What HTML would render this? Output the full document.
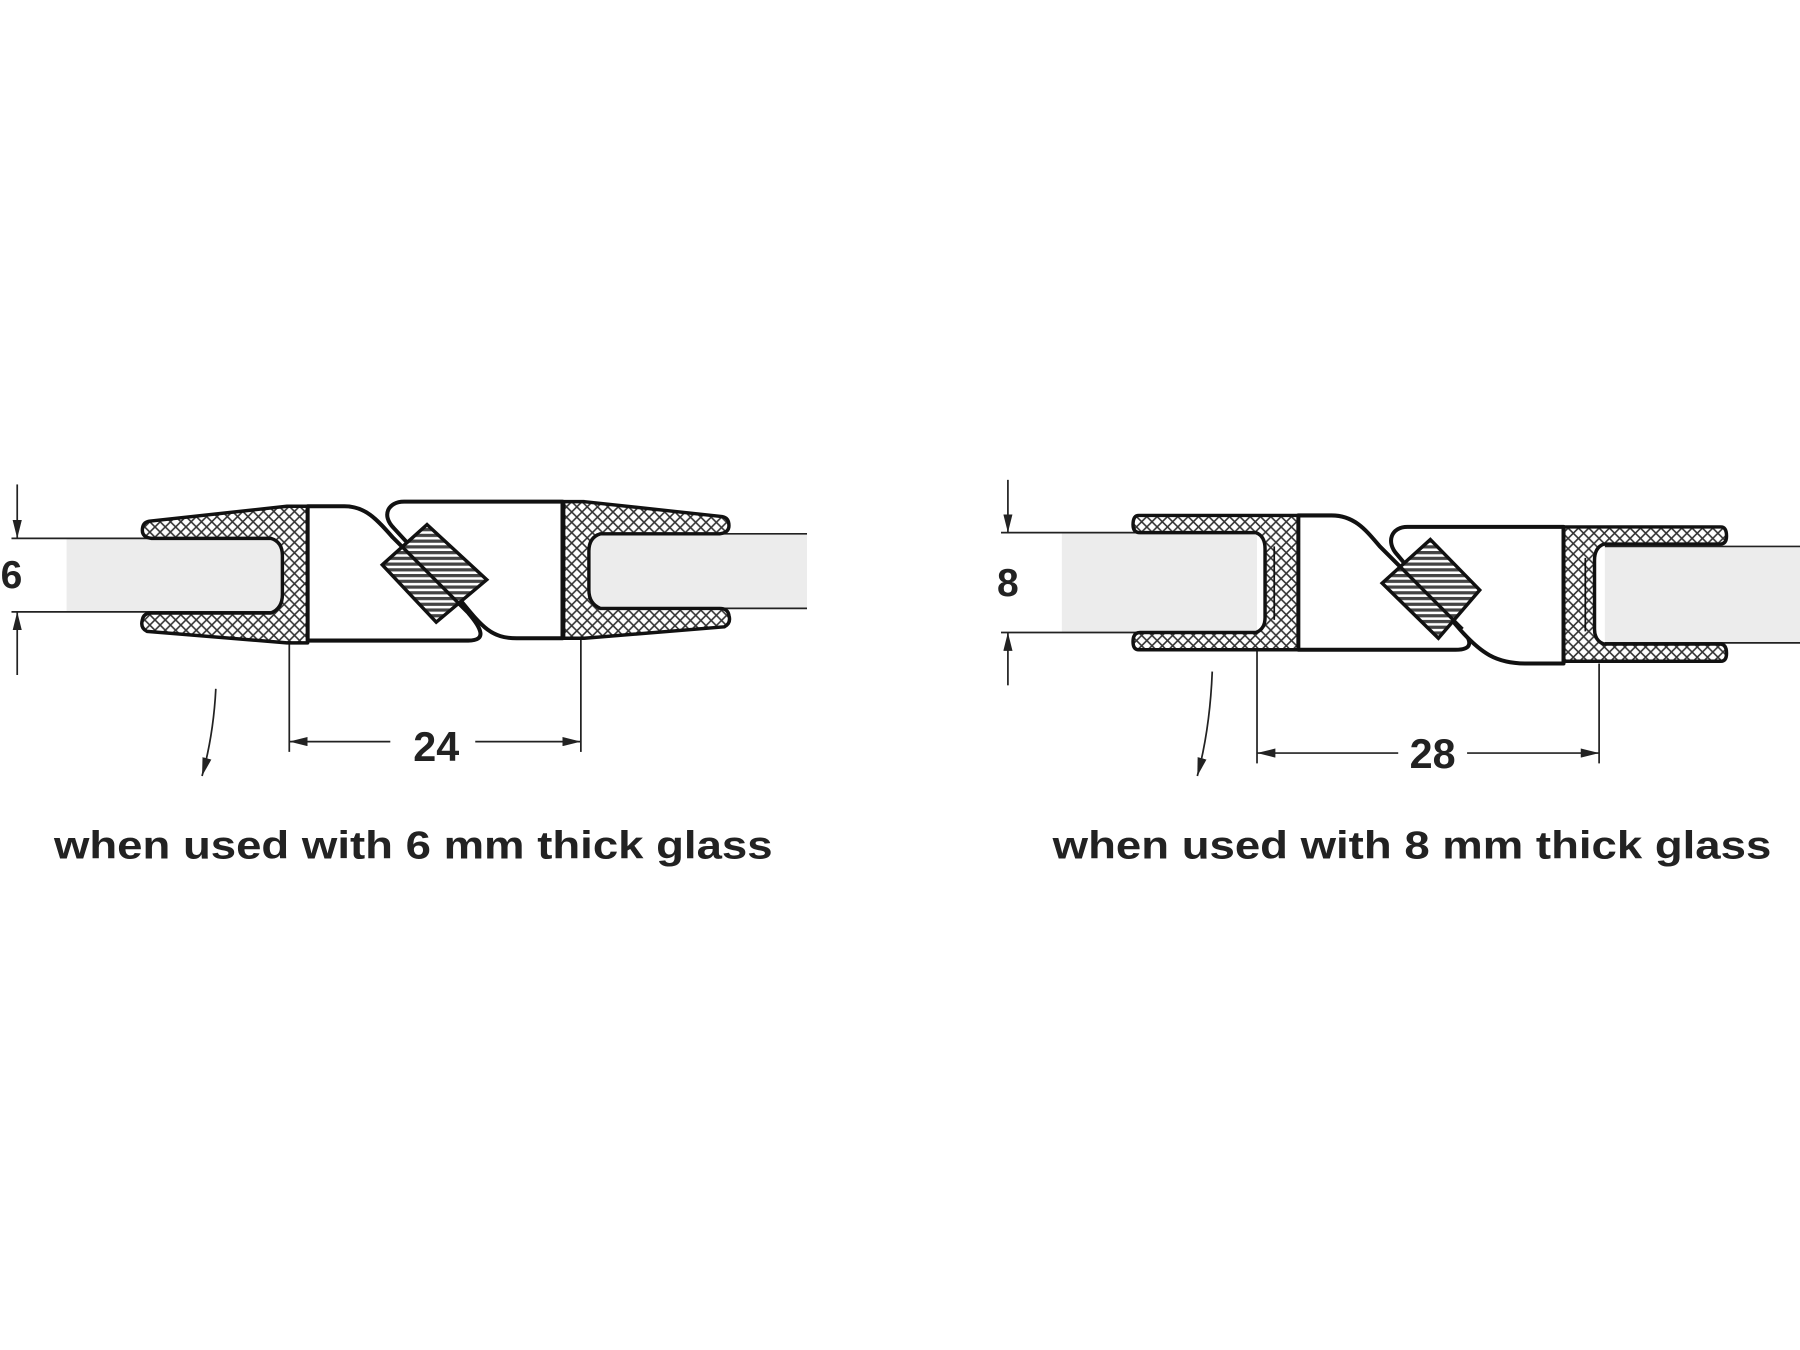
<!DOCTYPE html>
<html><head><meta charset="utf-8"><style>
html,body{margin:0;padding:0;background:#fff;width:1800px;height:1350px;overflow:hidden}
svg{display:block}
text{font-family:"Liberation Sans",Arial,sans-serif;font-weight:bold;fill:#222}
</style></head><body>
<svg width="1800" height="1350" viewBox="0 0 1568 1176" xmlns="http://www.w3.org/2000/svg">
<defs>
<pattern id="x" width="9" height="9" patternUnits="userSpaceOnUse">
<rect width="9" height="9" fill="#fff"/>
<path d="M0,0L9,9M9,0L0,9" stroke="#333" stroke-width="1.4"/>
</pattern>
<pattern id="h" width="5" height="5" patternUnits="userSpaceOnUse">
<rect width="5" height="5" fill="#fff"/>
<rect width="5" height="2.8" fill="#444"/>
</pattern>
<marker id="a" viewBox="0 0 16 8" refX="16" refY="4" markerWidth="16" markerHeight="8" orient="auto" markerUnits="userSpaceOnUse">
<path d="M0,0L16,4L0,8z" fill="#222"/></marker>
</defs>

<!-- LEFT DIAGRAM (6 mm) -->
<rect x="58" y="469" width="187" height="64" fill="#ececec"/>
<rect x="515" y="465" width="188" height="65" fill="#ececec"/>
<g stroke="#222" stroke-width="1.5" fill="none">
<line x1="10" y1="469" x2="245" y2="469"/><line x1="10" y1="533" x2="245" y2="533"/>
<line x1="515" y1="465" x2="703" y2="465"/><line x1="515" y1="530" x2="703" y2="530"/>
<line x1="15" y1="422" x2="15" y2="469" marker-end="url(#a)"/>
<line x1="15" y1="588" x2="15" y2="533" marker-end="url(#a)"/>
<line x1="252" y1="560" x2="252" y2="655"/><line x1="506" y1="556" x2="506" y2="655"/>
<line x1="340" y1="646" x2="252" y2="646" marker-end="url(#a)"/>
<line x1="414" y1="646" x2="506" y2="646" marker-end="url(#a)"/>
<path d="M188,600 Q186,640 176,676" marker-end="url(#a)"/>
</g>
<g id="c6" fill="url(#x)" stroke="#111" stroke-width="3" stroke-linejoin="round">
<path d="M250,441 L268,441 L268,560 L250,560 L128,550 Q122,547 124,540 Q125,534 132,534 L236,534 Q246,530 246,518 L246,484 Q246,472 236,469 L132,469 Q124,468 124,462 Q124,455 130,454 Z"/>
</g>
<use href="#c6" transform="translate(759,-4) scale(-1,1)" />
<g fill="#fff" stroke="#111" stroke-width="3.5" stroke-linejoin="round">
<path d="M268,441 L300,441 C318,441 328,452 342,468 L408,534 C420,548 424,558 408,558 L268,558 Z"/>
<path d="M490,437 L352,437 C338,437 332,449 343,460 L402,524 C420,546 428,556 450,556 L490,556 Z"/>
</g>
<polygon points="372,457 424,505 380,542 333,492" fill="url(#h)" stroke="#111" stroke-width="3"/>
<line x1="342" y1="468" x2="410" y2="536" stroke="#111" stroke-width="3"/>
<text x="10" y="512" font-size="34" text-anchor="middle">6</text>
<text x="380" y="663" font-size="36" text-anchor="middle">24</text>
<text x="47" y="748" font-size="34" textLength="626" lengthAdjust="spacingAndGlyphs">when used with 6 mm thick glass</text>

<!-- RIGHT DIAGRAM (8 mm) -->
<rect x="925" y="464" width="170" height="87" fill="#ececec"/>
<rect x="1398" y="476" width="170" height="84" fill="#ececec"/>
<g stroke="#222" stroke-width="1.5" fill="none">
<line x1="872" y1="464" x2="1095" y2="464"/><line x1="872" y1="551" x2="1095" y2="551"/>
<line x1="1398" y1="476" x2="1568" y2="476"/><line x1="1398" y1="560" x2="1568" y2="560"/>
<line x1="878" y1="418" x2="878" y2="464" marker-end="url(#a)"/>
<line x1="878" y1="597" x2="878" y2="551" marker-end="url(#a)"/>
<line x1="1095" y1="566" x2="1095" y2="665"/><line x1="1393" y1="578" x2="1393" y2="665"/>
<line x1="1218" y1="656" x2="1095" y2="656" marker-end="url(#a)"/>
<line x1="1278" y1="656" x2="1393" y2="656" marker-end="url(#a)"/>
<path d="M1056,585 Q1054,635 1043,676" marker-end="url(#a)"/>
</g>
<g id="c8" fill="url(#x)" stroke="#111" stroke-width="3" stroke-linejoin="round">
<path d="M992,449 L1131,449 L1131,566 L992,566 Q987,566 987,559 Q987,551 993,551 L1094,551 Q1102,548 1102,538 L1102,478 Q1102,467 1094,464 L993,464 Q987,464 987,457 Q987,449 992,449 Z"/>
<line x1="1110" y1="476" x2="1110" y2="540" stroke-width="1.5"/>
</g>
<use href="#c8" transform="translate(2491,10) scale(-1,1)"/>
<g fill="#fff" stroke="#111" stroke-width="3.5" stroke-linejoin="round">
<path d="M1131,449 L1160,449 C1180,449 1190,462 1202,476 L1272,546 C1284,560 1282,566 1268,566 L1131,566 Z"/>
<path d="M1362,459 L1226,459 C1212,459 1207,472 1217,483 L1268,544 C1290,570 1304,578 1330,578 L1362,578 Z"/>
</g>
<polygon points="1246,470 1289,514 1253,556 1204,508" fill="url(#h)" stroke="#111" stroke-width="3"/>
<line x1="1202" y1="476" x2="1274" y2="548" stroke="#111" stroke-width="3"/>
<text x="878" y="519" font-size="34" text-anchor="middle">8</text>
<text x="1248" y="669" font-size="36" text-anchor="middle">28</text>
<text x="917" y="748" font-size="34" textLength="626" lengthAdjust="spacingAndGlyphs">when used with 8 mm thick glass</text>
</svg>
</body></html>
